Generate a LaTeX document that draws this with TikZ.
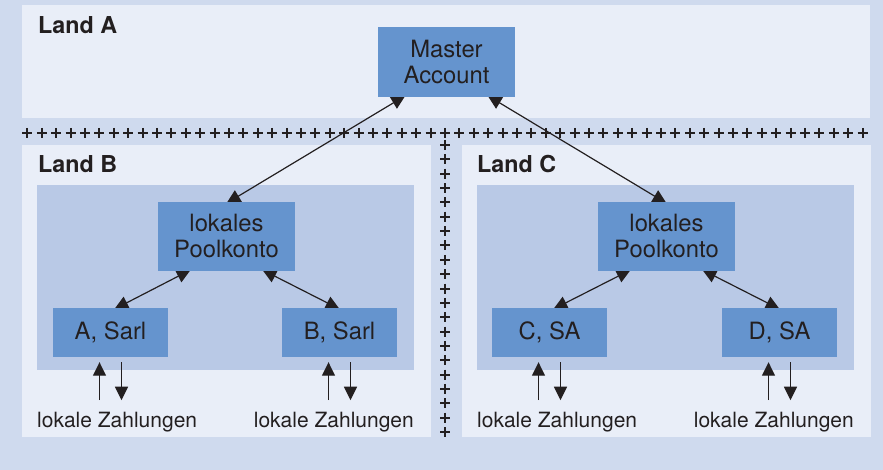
\documentclass[tikz,border=0pt]{standalone}
\usepackage{fontspec}
\setmainfont{TeX Gyre Heros}
\usetikzlibrary{arrows.meta,calc}
\definecolor{bgc}{RGB}{207,218,238}
\definecolor{panelc}{RGB}{233,238,248}
\definecolor{innerc}{RGB}{185,201,230}
\definecolor{boxc}{RGB}{101,148,206}
\definecolor{txt}{RGB}{35,31,32}
\pgfdeclarelayer{bglayer}
\pgfdeclarelayer{lines}
\pgfsetlayers{bglayer,lines,main}
\tikzset{
  acct/.style={fill=boxc, text=txt, inner sep=0pt, align=center, font=\fontsize{23.8}{26}\selectfont},
  bigbox/.style={acct, minimum width=137pt, minimum height=70pt},
  smallbox/.style={acct, minimum width=115pt, minimum height=49pt},
  landlabel/.style={font=\bfseries\fontsize{23.3}{26}\selectfont, text=txt, anchor=base west, inner sep=0pt},
  paylabel/.style={font=\fontsize{21}{24}\selectfont, text=txt, inner sep=0pt},
  link/.style={line width=1.2pt, draw=txt, {Triangle[length=14pt,width=13.5pt]}-{Triangle[length=14pt,width=13.5pt]}, shorten <=-3pt, shorten >=-3pt},
  pay/.style={line width=1.2pt, draw=txt, -{Triangle[length=13.5pt,width=13pt]}},
  plusmark/.style={line width=2pt, draw=txt}
}
\begin{document}
\begin{tikzpicture}[x=1pt,y=-1pt]
\begin{pgfonlayer}{bglayer}
  \fill[bgc] (0,0) rectangle (883,470);
  \fill[panelc] (22,5) rectangle (870,118);
  \fill[panelc] (22,145) rectangle (431,437);
  \fill[panelc] (462,145) rectangle (871,437);
  \fill[innerc] (37,185) rectangle (414,370);
  \fill[innerc] (477,185) rectangle (854,370);
  \foreach \k in {-29,...,29} {
    \draw[plusmark] ({445+14.4*\k-5},133) -- ++(10,0) ({445+14.4*\k},128) -- ++(0,10);
  }
  \foreach \k in {0,...,20} {
    \draw[plusmark] (440,{145+14.35*\k}) -- ++(10,0) (445,{145+14.35*\k-5}) -- ++(0,10);
  }
\end{pgfonlayer}
\useasboundingbox (0,0) rectangle (883,470);

\node[landlabel] (lA) at (38,34) {Land A};
\node[landlabel] (lB) at (38,173) {Land B};
\node[landlabel] (lC) at (477,173) {Land C};

\node[bigbox] (m) at (446.5,62) {Master\\Account};
\node[bigbox, minimum height=69pt] (pb) at (226.5,236.5) {lokales\\Poolkonto};
\node[bigbox, minimum height=69pt] (pc) at (666.5,236.5) {lokales\\Poolkonto};
\node[smallbox] (a) at (110.5,332.5) {A, Sarl};
\node[smallbox] (b) at (339.5,332.5) {B, Sarl};
\node[smallbox] (c) at (549.5,332.5) {C, SA};
\node[smallbox] (d) at (779.5,332.5) {D, SA};

\node[paylabel, anchor=base west] (za) at (37,427) {lokale Zahlungen};
\node[paylabel, anchor=base east] (zb) at (414,427) {lokale Zahlungen};
\node[paylabel, anchor=base west] (zc) at (477,427) {lokale Zahlungen};
\node[paylabel, anchor=base east] (zd) at (854,427) {lokale Zahlungen};

\begin{pgfonlayer}{lines}
  \draw[link] ([xshift=25pt]m.south west) -- ([xshift=2.5pt]pb.north);
  \draw[link] ([xshift=-25pt]m.south east) -- ([xshift=-2.5pt]pc.north);
  \draw[link] ([xshift=-38.5pt]pb.south) -- ([xshift=6.5pt]a.north);
  \draw[link] ([xshift=38.5pt]pb.south) -- ([xshift=-2.5pt]b.north);
  \draw[link] ([xshift=-38.5pt]pc.south) -- ([xshift=6.5pt]c.north);
  \draw[link] ([xshift=38.5pt]pc.south) -- ([xshift=-2.5pt]d.north);
\end{pgfonlayer}

\foreach \n in {a,b,c,d} {
  \coordinate (\n-upfoot) at ($(\n.south)+(-11,43)$);
  \coordinate (\n-uptip) at ($(\n.south)+(-11,5)$);
  \coordinate (\n-dntop) at ($(\n.south)+(11,5)$);
  \coordinate (\n-dntip) at ($(\n.south)+(11,43)$);
  \draw[pay] (\n-upfoot) -- (\n-uptip);
  \draw[pay] (\n-dntop) -- (\n-dntip);
}
\end{tikzpicture}
\end{document}
